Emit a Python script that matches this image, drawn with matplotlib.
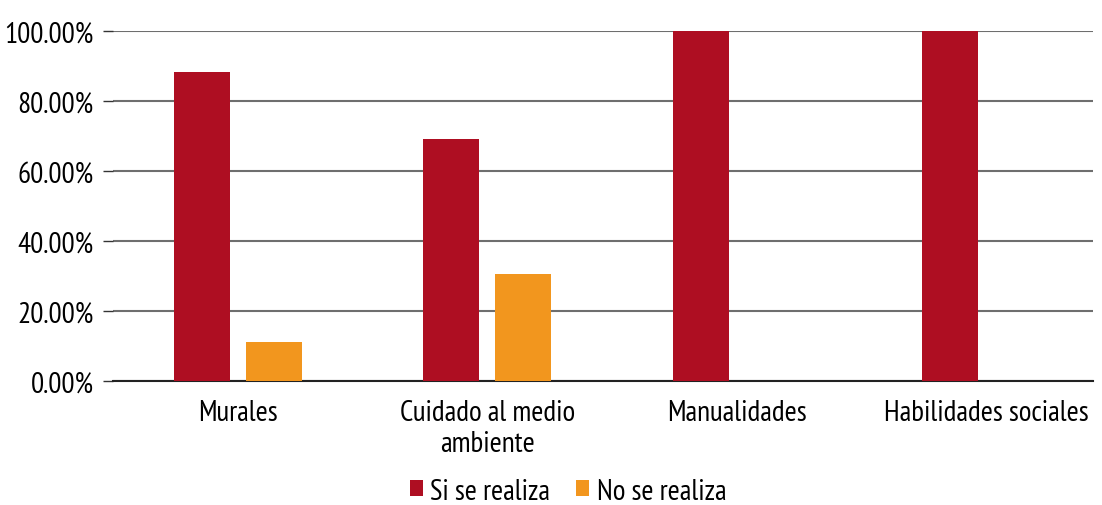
import matplotlib
matplotlib.use("Agg")
import matplotlib.pyplot as plt
import numpy as np
from matplotlib.ticker import FuncFormatter
from matplotlib import font_manager

categories = ["Murales", "Cuidado al medio\nambiente", "Manualidades", "Habilidades sociales"]
si_se_realiza = [88.3, 69.2, 100.0, 100.0]
no_se_realiza = [11.3, 30.7, 0.0, 0.0]
series_names = ["Si se realiza", "No se realiza"]
colors = ["#AE0E22", "#F2961E"]

names = {f.name for f in font_manager.fontManager.ttflist}
prefs = ["PT Sans Narrow", "Fira Sans Extra Condensed", "Roboto Condensed", "Liberation Sans Narrow"]
chosen = [p for p in prefs if p in names]
fam = chosen[:1] + ["DejaVu Sans"]
fs = 21 if chosen else 15
plt.rcParams['font.family'] = fam

fig = plt.figure(figsize=(11.02, 5.06), dpi=100)
ax = fig.add_axes([113/1102, 1-382.3/506, (1093-113)/1102, 350/506])

x = np.arange(len(categories))
w = 0.2245
off = 0.1437
ax.bar(x - off, si_se_realiza, w, color=colors[0], label=series_names[0], zorder=3)
ax.bar(x + off, no_se_realiza, w, color=colors[1], label=series_names[1], zorder=3)

ax.set_xlim(-0.5, -0.5 + 980/249.5)
ax.set_ylim(0, 100)
ax.set_yticks(np.arange(0, 101, 20))
ax.yaxis.set_major_formatter(FuncFormatter(lambda v, p: f"{v:.2f}%"))
ax.yaxis.grid(True, color="#6e6e6e", linewidth=1.5, zorder=0)
ax.set_xticks(x)
ax.set_xticklabels(categories, fontsize=fs, linespacing=1.15)
ax.tick_params(axis='x', length=0, pad=13)
ax.tick_params(axis='y', length=7, width=1, color="#333333", labelsize=fs, pad=7)
for s in ["top", "right", "left"]:
    ax.spines[s].set_visible(False)
ax.spines["bottom"].set_color("#222222")
ax.spines["bottom"].set_linewidth(1.5)

fig.legend(loc="center", bbox_to_anchor=(568/1102, 1-492/506), ncol=2, frameon=False,
           fontsize=fs, handlelength=0.45, handleheight=0.45, handletextpad=0.25, columnspacing=0.9,
           borderpad=0.1)

fig.savefig("out.png", dpi=100)
